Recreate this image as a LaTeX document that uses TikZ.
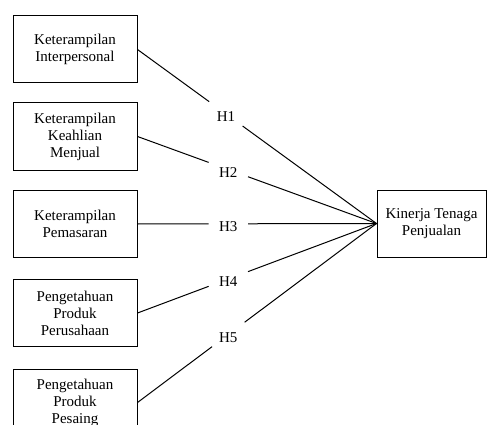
\documentclass[tikz,border=0pt]{standalone}
\usepackage{fontspec}
\setmainfont{Liberation Serif}
\begin{document}
\begin{tikzpicture}[x=1pt,y=-1pt,
  every node/.style={font=\fontsize{15}{17}\selectfont},
  varbox/.style={draw,line width=1pt,align=center,inner sep=0pt,minimum width=124pt,minimum height=67pt},
  hyp/.style={inner sep=0pt,minimum width=39pt,minimum height=24pt,text height=16pt,text depth=0pt},
  link/.style={line width=1pt}]
\clip (0,0) rectangle (487,425);
\node[varbox] (b1) at (75,49.5) {Keterampilan\\Interpersonal};
\node[varbox] (b2) at (75,136.5) {Keterampilan\\Keahlian\\Menjual};
\node[varbox] (b3) at (75,224) {Keterampilan\\Pemasaran};
\node[varbox] (b4) at (75,313) {Pengetahuan\\Produk\\Perusahaan};
\node[varbox] (b5) at (75,402.5) {Pengetahuan\\Produk\\Pesaing};
\node[varbox,minimum width=109pt] (t) at (431.5,223.5) {Kinerja Tenaga\\Penjualan};
\path (b1.east) -- node[hyp,pos=0.37] (h1) {H1} (t.west);
\path (b2.east) -- node[hyp,pos=0.38] (h2) {H2} (t.west);
\path (b3.east) -- node[hyp,pos=0.38] (h3) {H3} (t.west);
\path (b4.east) -- node[hyp,pos=0.38] (h4) {H4} (t.west);
\path (b5.east) -- node[hyp,pos=0.38] (h5) {H5} (t.west);
\draw[link] (b1.east) -- (h1) (h1) -- (t.west);
\draw[link] (b2.east) -- (h2) (h2) -- (t.west);
\draw[link] (b3.east) -- (h3) (h3) -- (t.west);
\draw[link] (b4.east) -- (h4) (h4) -- (t.west);
\draw[link] (b5.east) -- (h5) (h5) -- (t.west);
\end{tikzpicture}
\end{document}
